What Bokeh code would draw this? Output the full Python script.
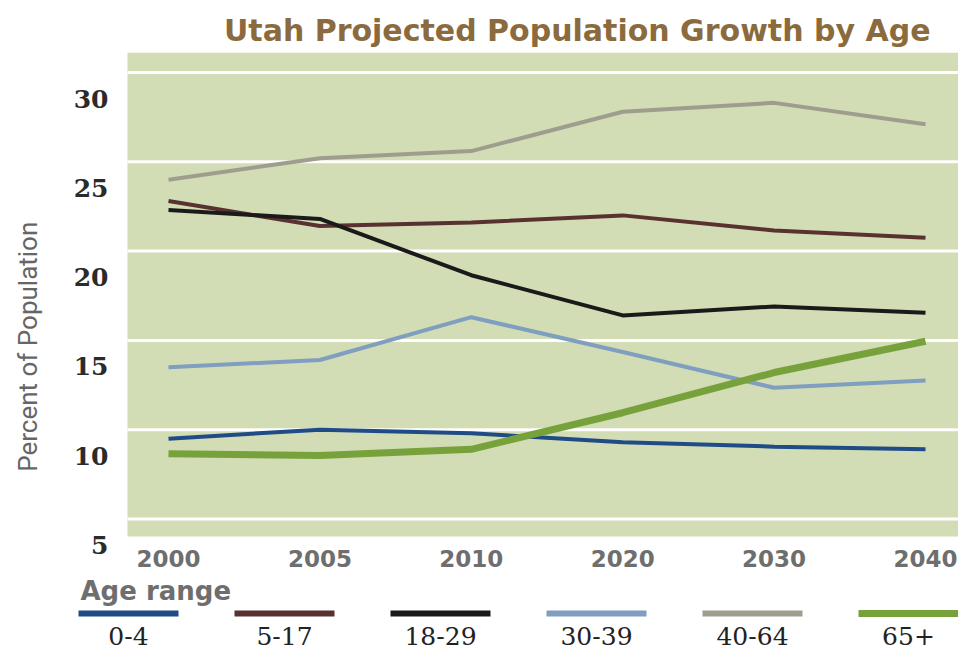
import math
from bokeh.plotting import figure
from bokeh.models import Range1d, BoxAnnotation
from bokeh.embed import file_html
from bokeh.resources import INLINE
from bokeh.core.properties import value

# ---- data ----
years = ["2000", "2005", "2010", "2020", "2030", "2040"]
age_groups = ["0-4", "5-17", "18-29", "30-39", "40-64", "65+"]
pct_0_4 = [9.5, 10.0, 9.8, 9.3, 9.05, 8.9]
pct_5_17 = [22.8, 21.4, 21.6, 22.0, 21.15, 20.75]
pct_18_29 = [22.3, 21.8, 18.65, 16.4, 16.9, 16.55]
pct_30_39 = [13.5, 13.9, 16.3, 14.35, 12.35, 12.75]
pct_40_64 = [24.0, 25.2, 25.6, 27.8, 28.3, 27.1]
pct_65_up = [8.65, 8.55, 8.9, 10.95, 13.2, 14.95]
y_ticks = [5, 10, 15, 20, 25, 30]

series = [pct_0_4, pct_5_17, pct_18_29, pct_30_39, pct_40_64, pct_65_up]
colors = ["#1f4b86", "#5a3131", "#1a1a1a", "#7f9ec0", "#9e9d8e", "#77a23b"]
widths = [4, 4, 4, 4, 4, 7]

BG = "#d2dcb5"
W, H = 958, 654
TOP = 52
x_idx = list(range(len(years)))

# ---- scale layout (pixels per unit, position of first category / top tick) ----
X0_PX, X_STEP = 168.0, 151.4          # first year position, spacing in px
Y30_PX, Y_STEP = 72.0, 17.86          # pixel of the 30 % gridline, px per 1 %


def xv(px):
    return (px - X0_PX) / X_STEP


def yv(py):
    return 30 - (py - Y30_PX) / Y_STEP


x_start, x_end = xv(0), xv(W)
y_top, y_bot = yv(TOP), yv(H)

p = figure(width=W, height=H,
           x_range=Range1d(x_start, x_end), y_range=Range1d(y_bot, y_top),
           toolbar_location=None, output_backend="svg",
           min_border_left=0, min_border_right=0, min_border_top=TOP,
           min_border_bottom=0, x_axis_location=None, y_axis_location=None,
           background_fill_color="white", border_fill_color="white",
           title="Utah Projected Population Growth by Age")
p.outline_line_color = None
p.grid.grid_line_color = None
p.title.align = "right"
p.title.offset = 28
p.title.text_font = "DejaVu Sans"
p.title.text_font_style = "bold"
p.title.text_font_size = "30px"
p.title.text_color = "#8b6b3d"

# plot panel
panel_left = xv(127)
panel_bottom = yv(536)
p.add_layout(BoxAnnotation(left=panel_left, bottom=panel_bottom,
                           fill_color=BG, fill_alpha=1.0, line_color=None,
                           level="image"))

# horizontal gridlines
p.segment(x0=[panel_left] * len(y_ticks), x1=[x_end] * len(y_ticks),
          y0=y_ticks, y1=y_ticks, line_color="white", line_width=3)

# y tick labels (sit below their gridlines, as in the original graphic)
p.text(x=[panel_left] * len(y_ticks), y=y_ticks,
       text=[str(t) for t in y_ticks], x_offset=-19, y_offset=26,
       text_align="right", text_baseline="middle",
       text_font=value("DejaVu Serif"), text_font_style="bold",
       text_font_size="25px", text_color="#2b2b2b")

# y axis title
p.text(x=[panel_left], y=[(y_ticks[0] + y_ticks[-1]) / 2],
       text=["Percent of Population"], x_offset=-100, y_offset=51,
       angle=math.pi / 2, text_align="center", text_baseline="middle",
       text_font=value("Roboto"), text_font_size="26px",
       text_color="#666666")

# x tick labels
p.text(x=x_idx, y=[panel_bottom] * len(x_idx), text=years, y_offset=22,
       text_align="center", text_baseline="middle",
       text_font=value("DejaVu Sans"), text_font_style="bold",
       text_font_size="23px", text_color="#6e6e6e")

# data lines
for vals, col, w in zip(series, colors, widths):
    p.line(x_idx, vals, line_color=col, line_width=w)

# ---- legend ----
leg_x = [xv(128 + 156 * i) for i in x_idx]
half = 50 / X_STEP
sw_y = yv(613)
p.segment(x0=[x - half for x in leg_x], x1=[x + half for x in leg_x],
          y0=[sw_y] * len(leg_x), y1=[sw_y] * len(leg_x),
          line_color=colors, line_width=[6, 6, 6, 6, 6, 7])
p.text(x=leg_x, y=[yv(635)] * len(leg_x), text=age_groups,
       text_align="center", text_baseline="middle",
       text_font=value("DejaVu Serif"), text_font_size="25px",
       text_color="#222222")
p.text(x=[leg_x[0] - half], y=[yv(590)], text=["Age range"], x_offset=2,
       text_align="left", text_baseline="middle",
       text_font=value("DejaVu Sans"), text_font_style="bold",
       text_font_size="26px", text_color="#6e6e6e")

open("out.html", "w").write(file_html(p, INLINE))
